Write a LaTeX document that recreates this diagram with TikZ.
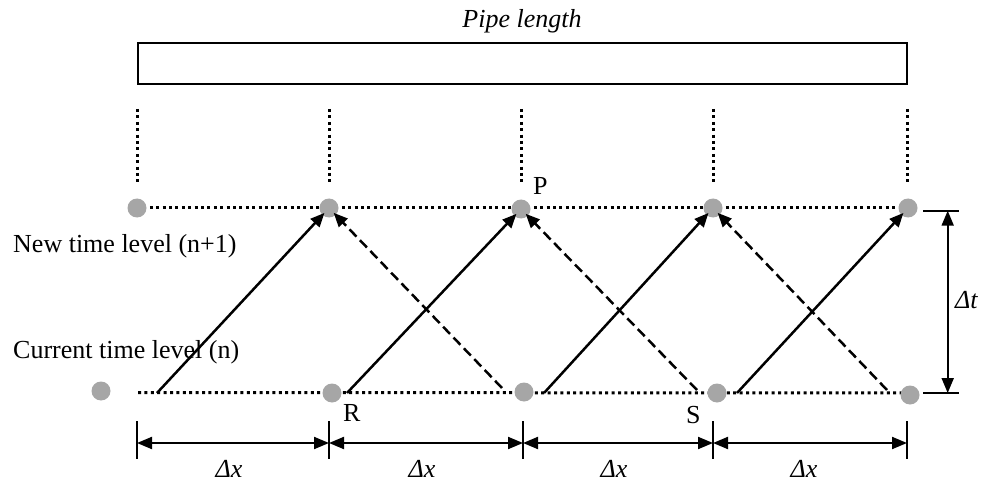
\documentclass[tikz,border=0pt]{standalone}
\usepackage{fontspec}
\setmainfont{Liberation Serif}
\usetikzlibrary{arrows.meta}
\definecolor{dotgray}{RGB}{166,166,166}
\begin{document}
\begin{tikzpicture}[x=1pt,y=-1pt,
  dot/.style={circle,fill=dotgray,minimum size=19pt,inner sep=0pt},
  dotline/.style={line width=3pt,dash pattern=on 3pt off 3.4pt},
  charline/.style={-{Triangle[length=14pt,width=12pt]},line width=2.5pt,shorten >=-3pt},
  chardash/.style={charline,dash pattern=on 10pt off 5pt},
  dimline/.style={{Triangle[length=15pt,width=12pt]}-{Triangle[length=15pt,width=12pt]},line width=2pt},
  tickline/.style={line width=2pt},
  lbl/.style={font=\fontsize{26}{30}\selectfont,inner sep=0pt}]
\useasboundingbox (0,0) rectangle (1002,484);

% pipe
\node[draw,line width=2.5pt,minimum width=769pt,minimum height=41pt,inner sep=0pt] (pipe) at (522.3,63.4) {};
\node[lbl,anchor=base] (pipelbl) at (522,28) {\textit{Pipe length}};

% dotted verticals
\foreach \x in {137.7,329,521,713,907}{
  \draw[dotline] (\x,109) -- (\x,185);
}

% dotted horizontals
\coordinate (tl) at (137,208);
\coordinate (tr) at (907,208);
\coordinate (bl) at (138,392.5);
\coordinate (br) at (905,393);
\draw[dotline] (tl) -- (tr);
\draw[dotline] (bl) -- (br);

% dots
\node[dot] (t1) at (137,208) {};
\node[dot] (t2) at (329,208) {};
\node[dot] (t3) at (521,209) {};
\node[dot] (t4) at (713,208) {};
\node[dot] (t5) at (908,208) {};
\node[dot] (b1) at (101,391) {};
\node[dot] (b2) at (332,393) {};
\node[dot] (b3) at (524,392) {};
\node[dot] (b4) at (717,393) {};
\node[dot] (b5) at (910,395) {};

% characteristic start points
\coordinate (s1) at (157,393);
\coordinate (s2) at (347,393);
\coordinate (s3) at (544,393);
\coordinate (s4) at (737,393);
\coordinate (r1) at (502,388);
\coordinate (r2) at (697,390);
\coordinate (r3) at (887,390);

\draw[charline] (s1) -- (t2);
\draw[charline] (s2) -- (t3);
\draw[charline] (s3) -- (t4);
\draw[charline] (s4) -- (t5);
\draw[chardash] (r1) -- (t2);
\draw[chardash] (r2) -- (t3);
\draw[chardash] (r3) -- (t4);

% labels
\node[lbl,anchor=base west] (newlbl) at (13,252) {New time level (n+1)};
\node[lbl,anchor=base west] (curlbl) at (13,358) {Current time level (n)};
\node[lbl,anchor=base west] (plbl) at (533,194) {P};
\node[lbl,anchor=base west] (rlbl) at (343,421) {R};
\node[lbl,anchor=base west] (slbl) at (686,423) {S};

% delta t
\draw[tickline] (923,210.7) -- (959,210.7);
\draw[tickline] (923,393) -- (959,393);
\coordinate (dtt) at (947.7,210.7);
\coordinate (dtb) at (947.7,393);
\draw[dimline] (dtt) -- (dtb);
\node[lbl,anchor=west] (dtlbl) at (955,300) {\textit{Δt}};

% delta x
\foreach \x in {137,329,523,713,907}{
  \draw[tickline] (\x,421) -- (\x,459);
}
\coordinate (d1) at (137,443);
\coordinate (d2) at (329,443);
\coordinate (d3) at (523,443);
\coordinate (d4) at (713,443);
\coordinate (d5) at (907,443);
\draw[dimline] (d1) -- (d2);
\draw[dimline] (d2) -- (d3);
\draw[dimline] (d3) -- (d4);
\draw[dimline] (d4) -- (d5);
\node[lbl,anchor=base] (dx1) at (229,477) {\textit{Δx}};
\node[lbl,anchor=base] (dx2) at (422,477) {\textit{Δx}};
\node[lbl,anchor=base] (dx3) at (614,477) {\textit{Δx}};
\node[lbl,anchor=base] (dx4) at (804,477) {\textit{Δx}};
\end{tikzpicture}
\end{document}
